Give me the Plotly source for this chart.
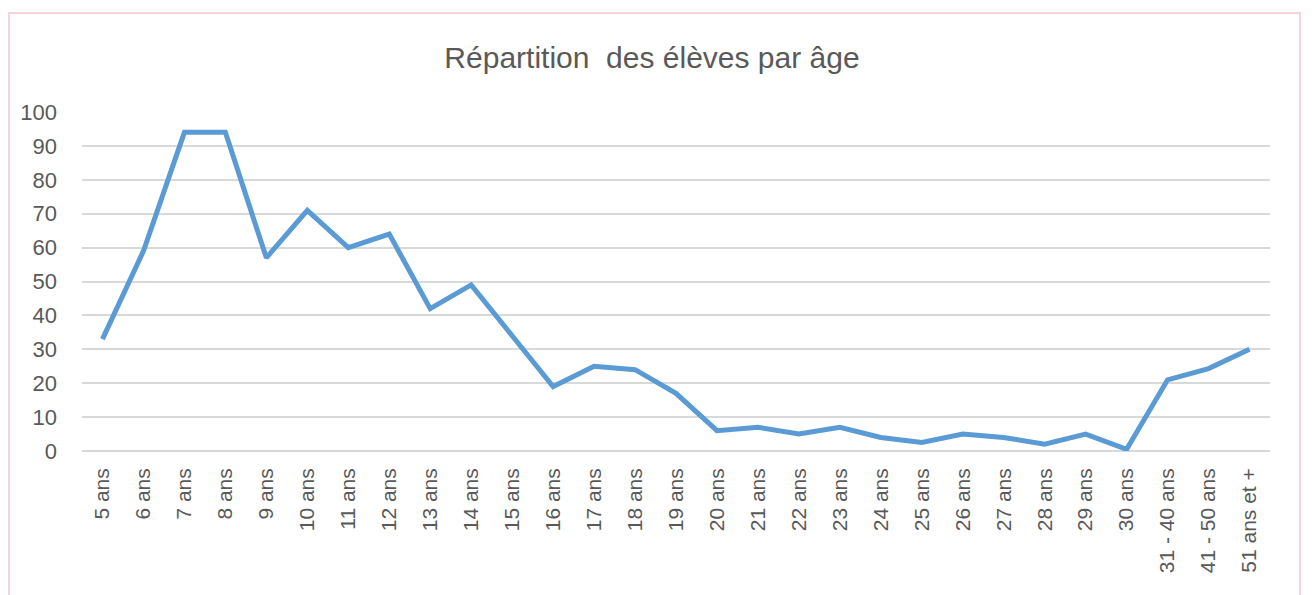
import plotly.graph_objects as go

categories = ["5 ans", "6 ans", "7 ans", "8 ans", "9 ans", "10 ans", "11 ans", "12 ans",
              "13 ans", "14 ans", "15 ans", "16 ans", "17 ans", "18 ans", "19 ans", "20 ans",
              "21 ans", "22 ans", "23 ans", "24 ans", "25 ans", "26 ans", "27 ans", "28 ans",
              "29 ans", "30 ans", "31 - 40 ans", "41 - 50 ans", "51 ans et +"]
values = [33, 59, 94, 94, 57, 71, 60, 64,
          42, 49, 34, 19, 25, 24, 17, 6,
          7, 5, 7, 4, 2.5, 5, 4, 2,
          5, 0.5, 21, 24.3, 30]

title_text = "Répartition  des élèves par âge"
y_ticks = list(range(0, 101, 10))

FONT = "Liberation Sans"
GRAY = "#595959"

W, H = 1304, 587
L, R, T, B = 74, 42, 104, 144
PW, PH = W - L - R, H - T - B

fig = go.Figure()
fig.add_trace(go.Scatter(
    x=categories, y=values, mode="lines",
    line=dict(color="#5B9BD5", width=5, shape="linear"),
    hoverinfo="x+y", showlegend=False,
))

fig.update_layout(
    width=W, height=H,
    paper_bgcolor="white", plot_bgcolor="white",
    margin=dict(l=L, r=R, t=T, b=B, pad=0),
    title=dict(text=title_text, x=644 / W, xref="container", xanchor="center",
               y=1 - 49 / H, yref="container", yanchor="middle",
               font=dict(family=FONT, size=30, color=GRAY)),
    font=dict(family=FONT, color=GRAY),
    xaxis=dict(
        type="category", range=[-0.5, len(categories) - 0.5],
        tickangle=-90, showgrid=False, showline=False, zeroline=False,
        ticks="", ticklabelstandoff=12,
        tickfont=dict(family=FONT, size=21, color=GRAY),
    ),
    yaxis=dict(
        range=[0, 100], tickvals=y_ticks, showgrid=True, gridcolor="#D9D9D9", gridwidth=1.5,
        zeroline=True, zerolinecolor="#D9D9D9", zerolinewidth=1.5, showline=False,
        ticks="", ticklabelstandoff=24,
        tickfont=dict(family=FONT, size=22, color=GRAY),
    ),
    shapes=[dict(type="rect", xref="paper", yref="paper",
                 x0=(1 - L) / PW, x1=(1292 - L) / PW,
                 y0=(PH - (640 - T)) / PH, y1=(PH - (5 - T)) / PH,
                 line=dict(color="#F4D3DA", width=2), fillcolor="rgba(0,0,0,0)",
                 layer="below")],
)

fig.write_html("out.html")
